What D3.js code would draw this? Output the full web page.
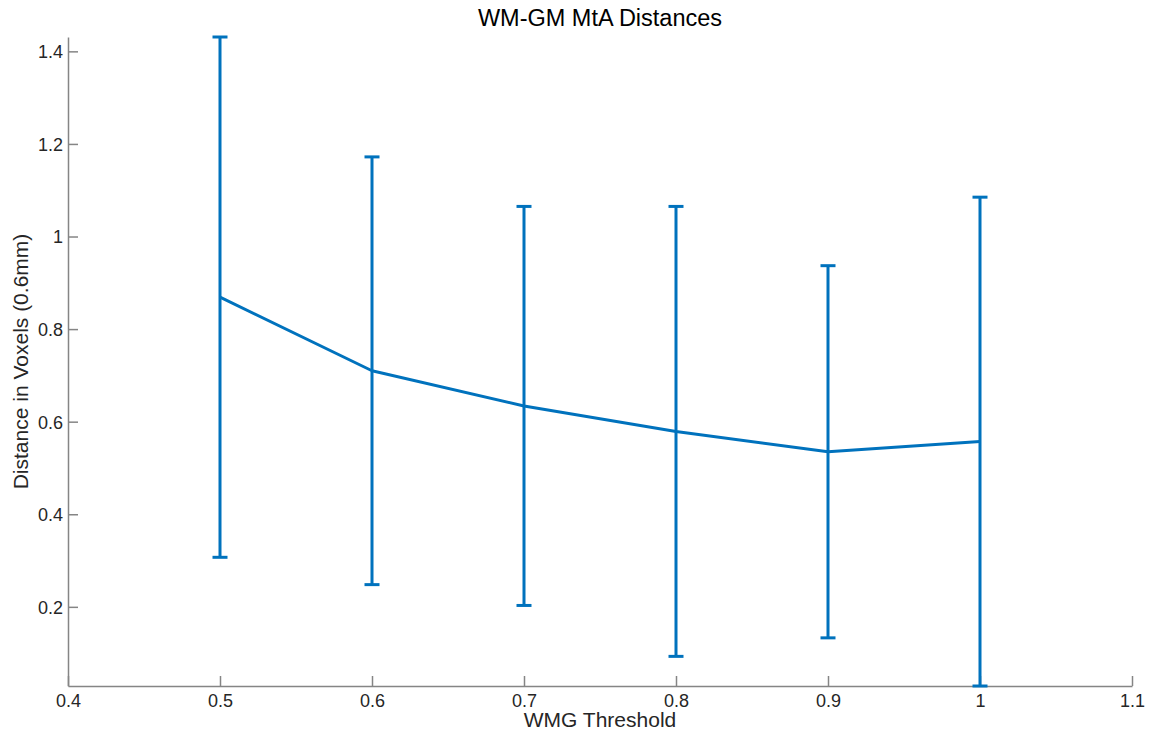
<!DOCTYPE html>
<html>
<head>
<meta charset="utf-8">
<script src="https://cdn.jsdelivr.net/npm/d3@7"></script>
<style>
  body { margin: 0; background: #fff; }
  text { font-family: "Liberation Sans", Arial, Helvetica, sans-serif; fill: #262626; }
</style>
</head>
<body>
<div id="dataviz"></div>
<script>
// Data
var thresholds = [0.5, 0.6, 0.7, 0.8, 0.9, 1.0];
var meanDist = [0.869, 0.710, 0.634, 0.579, 0.535, 0.557];
var errDist = [0.562, 0.462, 0.431, 0.486, 0.402, 0.528];
var xTicks = [0.4, 0.5, 0.6, 0.7, 0.8, 0.9, 1.0, 1.1];
var yTicks = [0.2, 0.4, 0.6, 0.8, 1.0, 1.2, 1.4];

// Set svg dimensions
var margin = {top: 37, right: 20, bottom: 45, left: 68};
const width = 1152;
const height = 731;
var plotWidth = width - margin.left - margin.right;
var plotHeight = height - margin.top - margin.bottom;

var axisColor = "#858585";
var lineColor = "#0072BD";

var svg = d3.select("#dataviz")
            .append("svg")
                .attr("width", width)
                .attr("height", height)
            .append("g")
                .attr("transform", "translate(" + margin.left + "," + margin.top + ")");

var rows = thresholds.map(function(t, i) {
    return {x: t, y: meanDist[i], lo: meanDist[i] - errDist[i], hi: meanDist[i] + errDist[i]};
});

// Scales (tight y limits, like matlab)
var scaleX = d3.scaleLinear().domain([0.4, 1.1]).range([0, plotWidth]);
var scaleY = d3.scaleLinear()
                .domain([d3.min(rows, function(d) { return d.lo; }), d3.max(rows, function(d) { return d.hi; })])
                .range([plotHeight, 0]);

// X axis, ticks pointing inward
var axisX = svg.append("g")
    .attr("transform", "translate(0," + plotHeight + ")")
    .call(d3.axisBottom(scaleX).tickValues(xTicks).tickSizeInner(-10).tickSizeOuter(0).tickPadding(7)
        .tickFormat(function(d) { return d === 1 ? "1" : d3.format(".1f")(d); }));

// Y axis
var axisY = svg.append("g")
    .call(d3.axisLeft(scaleY).tickValues(yTicks).tickSizeInner(-10).tickSizeOuter(0).tickPadding(5)
        .tickFormat(function(d) { return Math.abs(d - 1) < 1e-9 ? "1" : d3.format(".1f")(d); }));

[axisX, axisY].forEach(function(a) {
    a.select(".domain").attr("stroke", axisColor).attr("stroke-width", 1.5);
    a.selectAll(".tick line").attr("stroke", axisColor).attr("stroke-width", 1.5);
    a.selectAll(".tick text").attr("font-size", 18).attr("fill", "#262626");
});
axisX.selectAll(".tick text").attr("y", 8);
axisY.selectAll(".tick text").attr("dy", "0.36em");

// Error bars
var capHalf = 7.5;
var bars = svg.append("g").selectAll("g.err").data(rows).enter().append("g").attr("class", "err");
bars.append("line")
    .attr("x1", function(d) { return scaleX(d.x); })
    .attr("x2", function(d) { return scaleX(d.x); })
    .attr("y1", function(d) { return scaleY(d.lo); })
    .attr("y2", function(d) { return scaleY(d.hi); });
bars.append("line")
    .attr("x1", function(d) { return scaleX(d.x) - capHalf; })
    .attr("x2", function(d) { return scaleX(d.x) + capHalf; })
    .attr("y1", function(d) { return scaleY(d.hi); })
    .attr("y2", function(d) { return scaleY(d.hi); });
bars.append("line")
    .attr("x1", function(d) { return scaleX(d.x) - capHalf; })
    .attr("x2", function(d) { return scaleX(d.x) + capHalf; })
    .attr("y1", function(d) { return scaleY(d.lo); })
    .attr("y2", function(d) { return scaleY(d.lo); });
bars.selectAll("line").attr("stroke", lineColor).attr("stroke-width", 3);

// Mean line
var line = d3.line()
    .x(function(d) { return scaleX(d.x); })
    .y(function(d) { return scaleY(d.y); });
svg.append("path")
    .datum(rows)
    .attr("d", line)
    .attr("fill", "none")
    .attr("stroke", lineColor)
    .attr("stroke-width", 3)
    .attr("stroke-linejoin", "round");

// Labels
svg.append("text")
    .attr("x", plotWidth / 2)
    .attr("y", 26 - margin.top)
    .attr("text-anchor", "middle")
    .attr("font-size", 23.5)
    .attr("fill", "#000")
    .style("fill", "#000")
    .text("WM-GM MtA Distances");

svg.append("text")
    .attr("x", plotWidth / 2)
    .attr("y", plotHeight + 41)
    .attr("text-anchor", "middle")
    .attr("font-size", 21)
    .text("WMG Threshold");

svg.append("text")
    .attr("transform", "rotate(-90)")
    .attr("x", -plotHeight / 2)
    .attr("y", 28 - margin.left)
    .attr("text-anchor", "middle")
    .attr("font-size", 21)
    .text("Distance in Voxels (0.6mm)");
</script>
</body>
</html>
